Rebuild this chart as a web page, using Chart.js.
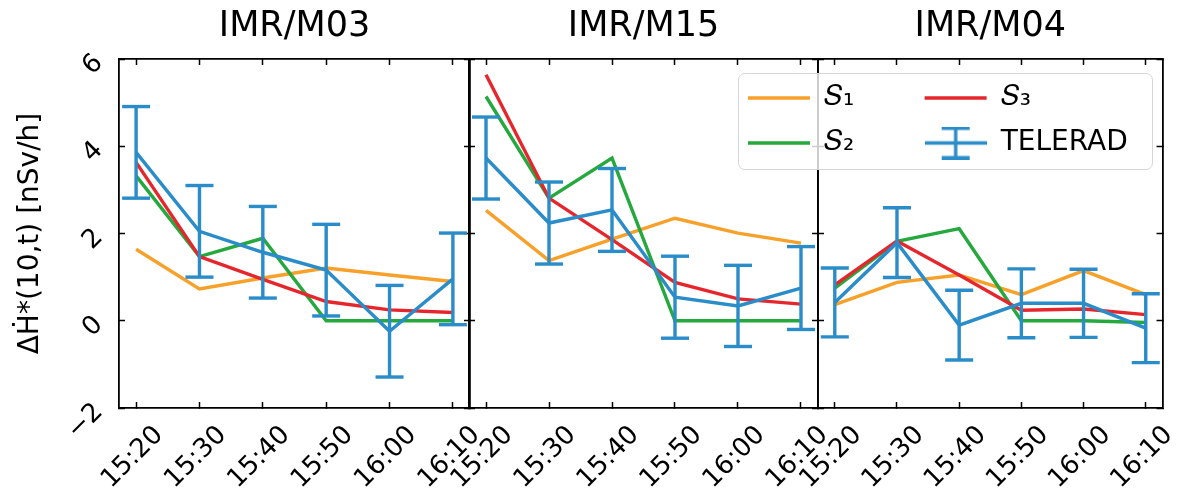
<!DOCTYPE html>
<html>
<head>
<meta charset="utf-8">
<script src="https://cdn.jsdelivr.net/npm/chart.js@4.4.1/dist/chart.umd.min.js"></script>
<style>
    html, body { margin: 0; padding: 0; background: #fff; }
    #wrap { position: relative; width: 1187px; height: 494px; overflow: hidden; }
    #wrap canvas { position: absolute; left: 0; top: 0; }
    #legendBox {
        position: absolute; left: 738px; top: 73px; width: 415px; height: 97px;
        box-sizing: border-box; border: 1px solid #d6d6d6; border-radius: 7px;
        background: rgba(255, 255, 255, 0.8);
    }
    #wrap #legendCanvas { left: 731px; top: 67px; }
</style>
</head>
<body>
<div id="wrap">
    <canvas id="p1" width="1187" height="494"></canvas>
    <canvas id="p2" width="1187" height="494"></canvas>
    <canvas id="p3" width="1187" height="494"></canvas>
    <div id="legendBox"></div>
    <canvas id="legendCanvas" width="900" height="120"></canvas>
</div>
<script>
// Data
const times = ['15:20', '15:30', '15:40', '15:50', '16:00', '16:10'];
const yTicks = [-2, 0, 2, 4, 6];
const seriesNames = ['𝑆₁', '𝑆₂', '𝑆₃', 'TELERAD'];

const m03S1 = [1.64, 0.73, 0.98, 1.21, 1.05, 0.90];
const m03S2 = [3.32, 1.47, 1.89, 0, 0, 0];
const m03S3 = [3.63, 1.47, 0.95, 0.44, 0.25, 0.19];
const m03Tel = [3.86, 2.05, 1.57, 1.16, -0.24, 0.96];
const m03Err = [1.05, 1.05, 1.05, 1.05, 1.05, 1.05];

const m15S1 = [2.53, 1.38, 1.87, 2.35, 2.01, 1.78];
const m15S2 = [5.14, 2.81, 3.73, 0, 0, 0];
const m15S3 = [5.64, 2.81, 1.86, 0.88, 0.50, 0.38];
const m15Tel = [3.73, 2.24, 2.54, 0.54, 0.34, 0.75];
const m15Err = [0.94, 0.94, 0.95, 0.94, 0.93, 0.95];

const m04S1 = [0.37, 0.88, 1.05, 0.60, 1.15, 0.60];
const m04S2 = [0.75, 1.82, 2.11, 0, 0, -0.04];
const m04S3 = [0.82, 1.83, 1.05, 0.24, 0.27, 0.14];
const m04Tel = [0.42, 1.79, -0.10, 0.40, 0.40, -0.17];
const m04Err = [0.79, 0.80, 0.80, 0.79, 0.78, 0.79];

const colors = ['#f7a12a', '#25a83d', '#e5272d', '#2a8cc8'];

Chart.defaults.font.family = "'DejaVu Sans', sans-serif";
Chart.defaults.color = '#000';

const panels = [
    { id: 'p1', title: 'IMR/M03', s1: m03S1, s2: m03S2, s3: m03S3, tel: m03Tel, err: m03Err, left: 0, right: 717, showY: true },
    { id: 'p2', title: 'IMR/M15', s1: m15S1, s2: m15S2, s3: m15S3, tel: m15Tel, err: m15Err, left: 469, right: 369, showY: false },
    { id: 'p3', title: 'IMR/M04', s1: m04S1, s2: m04S2, s3: m04S3, tel: m04Tel, err: m04Err, left: 818, right: 19, showY: false }
];

const xPad = 0.27;
const lineW = 3.4;
const border = { display: true, color: '#000', width: 1.8 };

// inward tick marks, no grid lines
function inTicks() {
    return { display: true, drawOnChartArea: false, drawTicks: true, tickLength: -6, color: '#000', tickWidth: 1.5 };
}

function toPoints(vals) {
    return vals.map((v, i) => ({ x: i, y: v }));
}

// vertical error segments, broken by null gaps
function errorBars(vals, errs) {
    const pts = [];
    vals.forEach((v, i) => {
        pts.push({ x: i, y: v - errs[i] }, { x: i, y: v + errs[i] }, { x: i, y: null });
    });
    return pts;
}

function lineDs(label, vals, color, order) {
    return {
        label, data: toPoints(vals), borderColor: color, backgroundColor: color,
        borderWidth: lineW, pointRadius: 0, tension: 0, fill: false, order,
        xAxisID: 'x', yAxisID: 'y'
    };
}

panels.forEach(p => {
    const xTicks = s => { s.ticks = times.map((t, i) => ({ value: i })); };
    const yTickBuild = s => { s.ticks = yTicks.map(v => ({ value: v })); };

    new Chart(document.getElementById(p.id), {
        type: 'line',
        data: {
            datasets: [
                {
                    label: 'TELERAD err', data: errorBars(p.tel, p.err),
                    borderColor: colors[3], borderWidth: lineW, showLine: true, spanGaps: false,
                    pointStyle: 'line', pointRadius: 14, pointBorderWidth: lineW,
                    pointBorderColor: colors[3], pointBackgroundColor: colors[3],
                    order: 0, xAxisID: 'x', yAxisID: 'y'
                },
                lineDs('TELERAD', p.tel, colors[3], 1),
                lineDs('S3', p.s3, colors[2], 2),
                lineDs('S2', p.s2, colors[1], 3),
                lineDs('S1', p.s1, colors[0], 4)
            ]
        },
        options: {
            responsive: false,
            animation: false,
            events: [],
            layout: { padding: { left: p.left, right: p.right, top: 0, bottom: 0 } },
            plugins: {
                legend: { display: false },
                tooltip: { enabled: false },
                title: {
                    display: true, text: p.title, fullSize: false, color: '#000',
                    font: { size: 35, weight: 'normal' },
                    padding: { top: 6, bottom: 11 }
                }
            },
            scales: {
                x: {
                    type: 'linear', position: 'bottom',
                    min: -xPad, max: times.length - 1 + xPad,
                    afterBuildTicks: xTicks,
                    afterFit: s => { s.height = 86; },
                    grid: inTicks(), border,
                    ticks: {
                        autoSkip: false, minRotation: 45, maxRotation: 45,
                        labelOffset: 23, padding: 18, color: '#000',
                        font: { size: 26 },
                        callback: v => times[v]
                    }
                },
                x2: {
                    type: 'linear', axis: 'x', position: 'top',
                    min: -xPad, max: times.length - 1 + xPad,
                    afterBuildTicks: xTicks,
                    afterFit: s => { s.height = 0; },
                    grid: inTicks(), border,
                    ticks: { display: false }
                },
                y: {
                    type: 'linear', position: 'left', min: -2, max: 6,
                    afterBuildTicks: yTickBuild,
                    afterFit: s => { s.width = p.showY ? 119 : 0; },
                    grid: inTicks(), border,
                    ticks: {
                        display: p.showY, minRotation: 45, maxRotation: 45,
                        padding: 26, color: '#000', font: { size: 26 },
                        callback: v => String(v).replace('-', '\u2212')
                    },
                    title: {
                        display: p.showY, text: 'ΔḢ*(10,t) [nSv/h]', color: '#000',
                        font: { size: 28 }, padding: { top: 14, bottom: 0 }
                    }
                },
                y2: {
                    type: 'linear', axis: 'y', position: 'right', min: -2, max: 6,
                    afterBuildTicks: yTickBuild,
                    afterFit: s => { s.width = 0; },
                    grid: inTicks(), border,
                    ticks: { display: false }
                }
            }
        }
    });
});

// legend glyph for the error-bar series
function errorBarGlyph(color) {
    const c = document.createElement('canvas');
    c.width = 62;
    c.height = 33;
    const ctx = c.getContext('2d');
    ctx.strokeStyle = color;
    ctx.lineWidth = lineW;
    ctx.beginPath();
    ctx.moveTo(0, 16.5); ctx.lineTo(62, 16.5);
    ctx.moveTo(31, 1.5); ctx.lineTo(31, 31.5);
    ctx.moveTo(17, 1.8); ctx.lineTo(45, 1.8);
    ctx.moveTo(17, 31.2); ctx.lineTo(45, 31.2);
    ctx.stroke();
    return c;
}

const colGap = '      ';
const glyph = errorBarGlyph(colors[3]);

new Chart(document.getElementById('legendCanvas'), {
    type: 'line',
    data: { datasets: seriesNames.map(name => ({ label: name, data: [] })) },
    options: {
        responsive: false,
        animation: false,
        events: [],
        layout: { padding: 0 },
        scales: { x: { display: false }, y: { display: false } },
        plugins: {
            tooltip: { enabled: false },
            legend: {
                position: 'left', align: 'start',
                labels: {
                    usePointStyle: true, pointStyleWidth: 62, padding: 17,
                    color: '#000', font: { size: 28 },
                    generateLabels: () => seriesNames.map((name, i) => ({
                        text: i < 2 ? name + colGap : name,
                        strokeStyle: colors[i], fillStyle: colors[i],
                        lineWidth: lineW, hidden: false, fontColor: '#000',
                        pointStyle: i === 3 ? glyph : 'line',
                        datasetIndex: i
                    }))
                }
            }
        }
    }
});
</script>
</body>
</html>
